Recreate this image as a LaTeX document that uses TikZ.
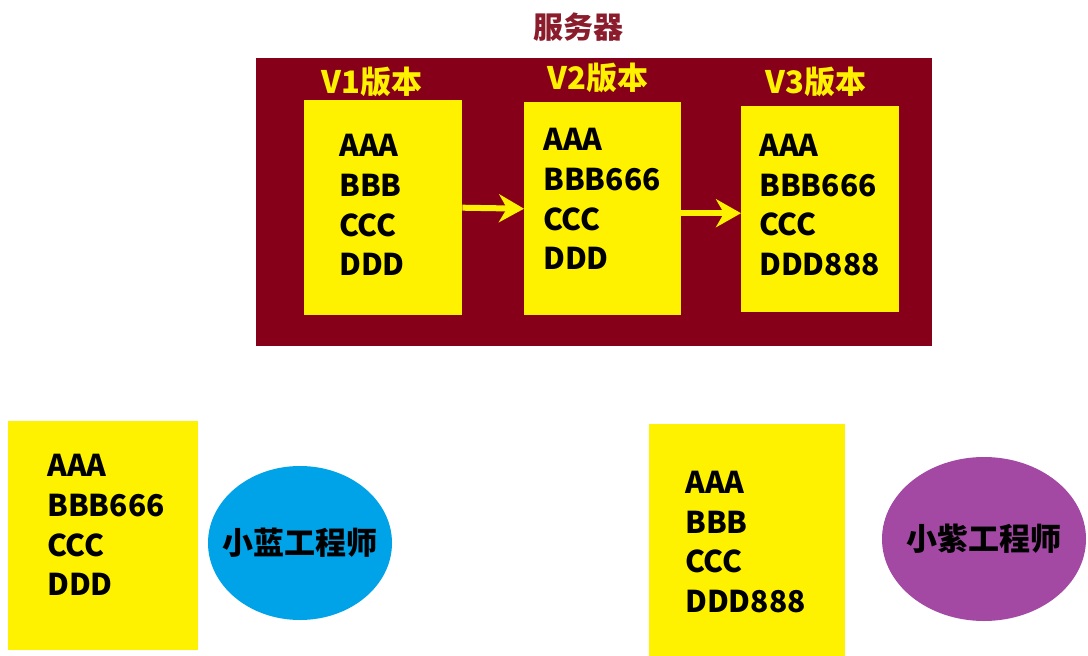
\documentclass[tikz,border=0pt]{standalone}
\usepackage{fontspec}
\setmainfont{Noto Sans CJK SC}
\usetikzlibrary{arrows.meta,shapes.geometric}
\definecolor{srvred}{HTML}{860019}
\definecolor{ttlred}{HTML}{8A1C2C}
\definecolor{ylw}{HTML}{FFF200}
\definecolor{blu}{HTML}{00A2E8}
\definecolor{ppl}{HTML}{A349A4}
\begin{document}
\begin{tikzpicture}[x=1pt,y=-1pt,
  ybox/.style={fill=ylw,draw=none,anchor=north west,inner sep=0pt},
  lines/.style={anchor=west,inner sep=0pt,align=left,font=\bfseries\fontsize{30}{39.7}\selectfont},
  vlabel/.style={text=ylw,font=\bfseries\fontsize{31}{32}\selectfont,inner sep=0pt},
  yarrow/.style={draw=ylw,line width=6pt,-{Stealth[length=25pt,width=28pt,inset=8pt]}},
  engshape/.style={ellipse,draw=none,inner sep=0pt},
  engtext/.style={inner sep=0pt,font=\bfseries\fontsize{31}{32}\selectfont}]
\useasboundingbox (0,0) rectangle (1088,656);
\node[text=ttlred,font=\bfseries\fontsize{30}{31}\selectfont,inner sep=0pt] (title) at (578,27) {服务器};
\node[fill=srvred,anchor=north west,inner sep=0pt,minimum width=676pt,minimum height=288pt] (server) at (256,58) {};
\node[vlabel] (l1) at (372,82) {V1版本};
\node[vlabel] (l2) at (598,78) {V2版本};
\node[vlabel] (l3) at (816,82) {V3版本};
\node[ybox,minimum width=158pt,minimum height=215pt] (v1) at (304,100) {};
\node[ybox,minimum width=157pt,minimum height=213pt] (v2) at (524,102) {};
\node[ybox,minimum width=158pt,minimum height=206pt] (v3) at (741,106) {};
\node[lines] (t1) at (339,205) {AAA\\BBB\\CCC\\DDD};
\node[lines] (t2) at (543,199) {AAA\\BBB666\\CCC\\DDD};
\node[lines] (t3) at (759,205) {AAA\\BBB666\\CCC\\DDD888};
\draw[yarrow] (v1.east) -- (v2.west);
\draw[yarrow] ([yshift=-4.5pt]v2.east) -- ([yshift=-4pt]v3.west);
\node[ybox,minimum width=190pt,minimum height=229pt] (b1) at (8,421) {};
\node[lines] (bt1) at (47,525) {AAA\\BBB666\\CCC\\DDD};
\node[engshape,fill=blu,minimum width=184pt,minimum height=154pt] (blue) at (300,543) {};
\node[engtext] (bluetext) at (blue.center) {小蓝工程师};
\node[ybox,minimum width=196pt,minimum height=232pt] (b2) at (649,424) {};
\node[lines] (bt2) at (685,542) {AAA\\BBB\\CCC\\DDD888};
\node[engshape,fill=ppl,minimum width=204pt,minimum height=164pt] (purple) at (984,539) {};
\node[engtext] (purpletext) at (purple.center) {小紫工程师};
\end{tikzpicture}
\end{document}
